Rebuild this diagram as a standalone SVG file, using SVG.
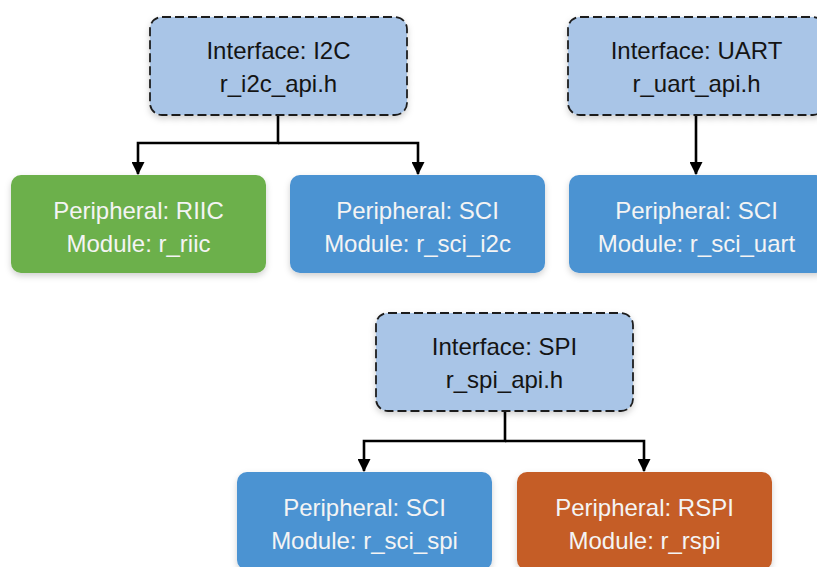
<svg xmlns="http://www.w3.org/2000/svg" width="817" height="567" viewBox="0 0 817 567">
  <defs>
    <filter id="sh" x="-10%" y="-10%" width="120%" height="130%">
      <feDropShadow dx="0" dy="3" stdDeviation="3" flood-color="#000" flood-opacity="0.18"/>
    </filter>
    <marker id="arr" viewBox="0 0 12 12" refX="11" refY="6" markerWidth="13" markerHeight="13" markerUnits="userSpaceOnUse" orient="auto">
      <path d="M0,0 L12,6 L0,12 Z" fill="#000"/>
    </marker>
  </defs>
  <style>
    .iface { fill: #a9c5e7; stroke: #1e1e1e; stroke-width: 1.8; stroke-dasharray: 9 4; }
    .green { fill: #6cb04b; }
    .blue { fill: #4c93d2; }
    .orange { fill: #c55d27; }
    text { font-family: "Liberation Sans", Arial, sans-serif; font-size: 24px; text-anchor: middle; }
    .dark { fill: #141414; }
    .light { fill: #f4f4f4; }
    .conn { fill: none; stroke: #000; stroke-width: 2.6; }
  </style>
  <rect width="817" height="567" fill="#fff"/>

  <g id="connectors">
    <path class="conn" d="M278,115 V143 H138 V174" marker-end="url(#arr)"/>
    <path class="conn" d="M278,143 H418 V174" marker-end="url(#arr)"/>
    <path class="conn" d="M696,115 V174" marker-end="url(#arr)"/>
    <path class="conn" d="M505,411 V441 H364 V471" marker-end="url(#arr)"/>
    <path class="conn" d="M505,441 H644 V471" marker-end="url(#arr)"/>
  </g>

  <g id="iface-i2c">
    <rect class="iface" x="150" y="17" width="257" height="98" rx="12" filter="url(#sh)"/>
    <text class="dark" x="278.5" y="59">Interface: I2C</text>
    <text class="dark" x="278.5" y="92">r_i2c_api.h</text>
  </g>
  <g id="iface-uart">
    <rect class="iface" x="568" y="17" width="257" height="98" rx="12" filter="url(#sh)"/>
    <text class="dark" x="696.5" y="59">Interface: UART</text>
    <text class="dark" x="696.5" y="92">r_uart_api.h</text>
  </g>
  <g id="riic">
    <rect class="green" x="11" y="175" width="255" height="98" rx="10" filter="url(#sh)"/>
    <text class="light" x="138.5" y="219">Peripheral: RIIC</text>
    <text class="light" x="138.5" y="252">Module: r_riic</text>
  </g>
  <g id="sci-i2c">
    <rect class="blue" x="290" y="175" width="255" height="98" rx="10" filter="url(#sh)"/>
    <text class="light" x="417.5" y="219">Peripheral: SCI</text>
    <text class="light" x="417.5" y="252">Module: r_sci_i2c</text>
  </g>
  <g id="sci-uart">
    <rect class="blue" x="569" y="175" width="257" height="98" rx="10" filter="url(#sh)"/>
    <text class="light" x="696.5" y="219">Peripheral: SCI</text>
    <text class="light" x="696.5" y="252">Module: r_sci_uart</text>
  </g>
  <g id="iface-spi">
    <rect class="iface" x="376" y="313" width="257" height="98" rx="12" filter="url(#sh)"/>
    <text class="dark" x="504.5" y="355">Interface: SPI</text>
    <text class="dark" x="504.5" y="388">r_spi_api.h</text>
  </g>
  <g id="sci-spi">
    <rect class="blue" x="237" y="472" width="255" height="98" rx="10" filter="url(#sh)"/>
    <text class="light" x="364.5" y="516">Peripheral: SCI</text>
    <text class="light" x="364.5" y="549">Module: r_sci_spi</text>
  </g>
  <g id="rspi">
    <rect class="orange" x="517" y="472" width="255" height="98" rx="10" filter="url(#sh)"/>
    <text class="light" x="644.5" y="516">Peripheral: RSPI</text>
    <text class="light" x="644.5" y="549">Module: r_rspi</text>
  </g>
</svg>
